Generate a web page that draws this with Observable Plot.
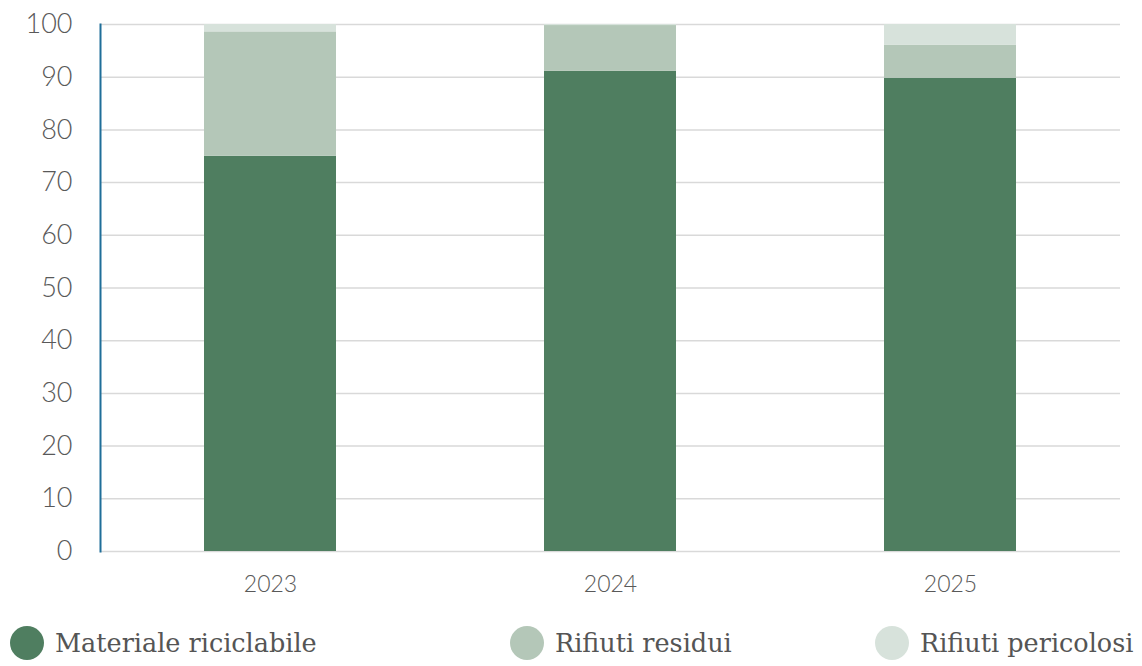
<!DOCTYPE html>
<html>
<head>
<meta charset="utf-8">
<script src="https://cdn.jsdelivr.net/npm/d3@7"></script>
<script src="https://cdn.jsdelivr.net/npm/@observablehq/plot@0.6"></script>
<style>
  html, body { margin: 0; padding: 0; background: #fff; }
  #wrap { position: relative; width: 1142px; height: 666px; overflow: hidden; }
  #legend { position: absolute; left: 0; top: 605px; width: 1142px; height: 61px; font-family: "DejaVu Serif", "Liberation Serif", serif; font-size: 25.5px; color: #555; }
  .item { position: absolute; top: 21px; display: flex; align-items: center; }
  .dot { width: 34px; height: 34px; border-radius: 50%; margin-right: 11px; }
</style>
</head>
<body>
<div id="wrap">
  <div id="chart"></div>
  <div id="legend"></div>
</div>
<script>
const years = ["2023", "2024", "2025"];
const seriesNames = ["Materiale riciclabile", "Rifiuti residui", "Rifiuti pericolosi"];
const riciclabile = [75.0, 91.1, 89.8];
const residui = [23.6, 8.7, 6.3];
const pericolosi = [1.4, 0.2, 3.9];
const colors = ["#4f7e60", "#b4c7b8", "#d7e2db"];
const yTicks = [0, 10, 20, 30, 40, 50, 60, 70, 80, 90, 100];

const seriesValues = [riciclabile, residui, pericolosi];
const data = [];
seriesNames.forEach((s, si) => {
  years.forEach((y, yi) => data.push({year: y, series: s, value: seriesValues[si][yi]}));
});

const chart = Plot.plot({
  width: 1142,
  height: 605,
  marginTop: 24,
  marginLeft: 100,
  marginRight: 22,
  marginBottom: 54,
  style: { fontFamily: "Lato, 'Open Sans', sans-serif", background: "#fff", fontWeight: 300 },
  x: { domain: years, paddingInner: 0.612, paddingOuter: 0.306, label: null },
  y: { domain: [0, 100], label: null },
  color: { domain: seriesNames, range: colors },
  marks: [
    Plot.gridY(yTicks, { stroke: "#d9d9d9", strokeOpacity: 1, strokeWidth: 1.5 }),
    Plot.barY(data, { x: "year", y: "value", fill: "series", order: seriesNames, inset: 0 }),
    Plot.axisY(yTicks, { tickSize: 0, tickPadding: 28, fontSize: 27, fill: "#595959", label: null }),
    Plot.axisX({ tickSize: 0, tickPadding: 24, fontSize: 23, fill: "#595959", label: null }),
    Plot.frame({ anchor: "left", stroke: "#1f6e99", strokeWidth: 2 })
  ]
});
document.getElementById("chart").appendChild(chart);

const legend = document.getElementById("legend");
const lefts = [10, 510, 875];
seriesNames.forEach((s, i) => {
  const item = document.createElement("div");
  item.className = "item";
  item.style.left = lefts[i] + "px";
  const dot = document.createElement("div");
  dot.className = "dot";
  dot.style.background = colors[i];
  const label = document.createElement("span");
  label.textContent = s;
  item.appendChild(dot);
  item.appendChild(label);
  legend.appendChild(item);
});
</script>
</body>
</html>
